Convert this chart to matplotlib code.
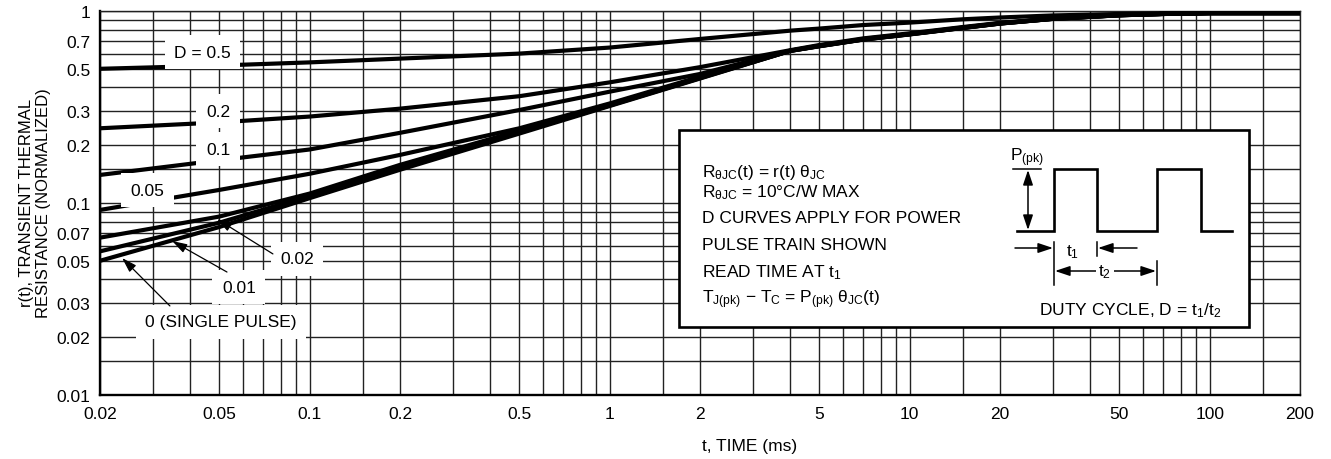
import matplotlib
matplotlib.use("Agg")
import matplotlib.pyplot as plt
from matplotlib.patches import Rectangle
from matplotlib.ticker import FixedLocator, FixedFormatter, NullFormatter

plt.rcParams['font.family'] = ['Liberation Sans', 'DejaVu Sans']
plt.rcParams['mathtext.fontset'] = 'custom'
plt.rcParams['mathtext.rm'] = 'Liberation Sans'
plt.rcParams['mathtext.it'] = 'Liberation Sans:italic'
plt.rcParams['mathtext.bf'] = 'Liberation Sans:bold'

# ---------------- data ----------------
t_ms = [0.02, 0.05, 0.1, 0.2, 0.5, 1, 2, 4, 5, 7, 10, 15, 20, 30, 50, 70, 100, 200]
r_d050 = [0.50, 0.52, 0.54, 0.565, 0.60, 0.645, 0.715, 0.79, 0.81, 0.845, 0.87, 0.905, 0.925, 0.948, 0.965, 0.972, 0.975, 0.975]
r_d020 = [0.245, 0.263, 0.282, 0.31, 0.36, 0.425, 0.51, 0.625, 0.665, 0.72, 0.765, 0.825, 0.867, 0.914, 0.953, 0.966, 0.975, 0.975]
r_d010 = [0.14, 0.167, 0.19, 0.232, 0.305, 0.38, 0.47, 0.622, 0.66, 0.715, 0.76, 0.82, 0.864, 0.912, 0.952, 0.966, 0.975, 0.975]
r_d005 = [0.092, 0.117, 0.142, 0.178, 0.245, 0.33, 0.455, 0.621, 0.658, 0.712, 0.758, 0.818, 0.862, 0.911, 0.951, 0.965, 0.975, 0.975]
r_d002 = [0.066, 0.085, 0.112, 0.158, 0.238, 0.325, 0.45, 0.62, 0.657, 0.711, 0.757, 0.817, 0.861, 0.91, 0.95, 0.965, 0.975, 0.975]
r_d001 = [0.056, 0.079, 0.109, 0.153, 0.234, 0.322, 0.447, 0.62, 0.656, 0.71, 0.756, 0.816, 0.86, 0.91, 0.95, 0.965, 0.975, 0.975]
r_d000 = [0.050, 0.075, 0.106, 0.149, 0.230, 0.320, 0.445, 0.62, 0.655, 0.71, 0.755, 0.815, 0.86, 0.91, 0.95, 0.965, 0.975, 0.975]

x_ticks = [0.02, 0.05, 0.1, 0.2, 0.5, 1, 2, 5, 10, 20, 50, 100, 200]
x_tick_labels = ["0.02", "0.05", "0.1", "0.2", "0.5", "1", "2", "5", "10", "20", "50", "100", "200"]
y_ticks = [0.01, 0.02, 0.03, 0.05, 0.07, 0.1, 0.2, 0.3, 0.5, 0.7, 1]
y_tick_labels = ["0.01", "0.02", "0.03", "0.05", "0.07", "0.1", "0.2", "0.3", "0.5", "0.7", "1"]

# ---------------- figure ----------------
W, H = 1331, 460
fig = plt.figure(figsize=(W / 100, H / 100), dpi=100)
L, R, T, B = 100, 1300, 12, 396
ax = fig.add_axes([L / W, 1 - B / H, (R - L) / W, (B - T) / H])
ax.set_xscale('log')
ax.set_yscale('log')
ax.set_xlim(0.02, 200)
ax.set_ylim(0.01, 1)

mults = [1, 1.5, 2, 3, 4, 5, 6, 7, 8, 9]
x_grid = [m * 10 ** e for e in range(-2, 3) for m in mults if 0.02 <= m * 10 ** e <= 200]
y_grid = [m * 10 ** e for e in range(-2, 1) for m in mults if 0.01 <= m * 10 ** e <= 1]

ax.xaxis.set_major_locator(FixedLocator(x_ticks))
ax.xaxis.set_major_formatter(FixedFormatter(x_tick_labels))
ax.xaxis.set_minor_locator(FixedLocator(x_grid))
ax.xaxis.set_minor_formatter(NullFormatter())
ax.yaxis.set_major_locator(FixedLocator(y_ticks))
ax.yaxis.set_major_formatter(FixedFormatter(y_tick_labels))
ax.yaxis.set_minor_locator(FixedLocator(y_grid))
ax.yaxis.set_minor_formatter(NullFormatter())
ax.tick_params(which='both', length=0)
ax.tick_params(axis='x', pad=8, labelsize=12.5)
ax.tick_params(axis='y', pad=7, labelsize=12.5)
ax.grid(which='both', color='#222222', lw=1.0)
ax.set_axisbelow(True)
for s in ['left', 'bottom']:
    ax.spines[s].set_linewidth(1.7)
    ax.spines[s].set_color('black')
for s in ['top', 'right']:
    ax.spines[s].set_linewidth(1.0)
    ax.spines[s].set_color('#222222')

for r in [r_d050, r_d020, r_d010, r_d005, r_d002, r_d001, r_d000]:
    ax.plot(t_ms, r, color='black', lw=3.0, zorder=3, solid_capstyle='butt',
            solid_joinstyle='round')

lab_kw = dict(fontsize=12.5, ha='center', va='center', zorder=4,
              bbox=dict(boxstyle='square,pad=0.55', fc='white', ec='none'))
ax.text(0.0439, 0.611, "D = 0.5", **lab_kw)
ax.text(0.0495, 0.301, "0.2", **lab_kw)
ax.text(0.0495, 0.191, "0.1", **lab_kw)
ax.text(0.0287, 0.1168, "0.05", **lab_kw)
ax.text(0.0907, 0.0511, "0.02", **lab_kw)
ax.text(0.0581, 0.0365, "0.01", **lab_kw)
ax.text(0.0506, 0.0240, "0 (SINGLE PULSE)", **lab_kw)

arr_kw = dict(arrowstyle='-|>,head_length=0.9,head_width=0.28', color='black',
              lw=0.9, shrinkA=0, shrinkB=0, mutation_scale=10)
ax.annotate('', xy=(0.0491, 0.0825), xytext=(0.0754, 0.0543), arrowprops=arr_kw, zorder=4)
ax.annotate('', xy=(0.0348, 0.0634), xytext=(0.0530, 0.0437), arrowprops=arr_kw, zorder=4)
ax.annotate('', xy=(0.0237, 0.0517), xytext=(0.0342, 0.0291), arrowprops=arr_kw, zorder=4)

fig.text(35 / W, 1 - 203 / H, "r(t), TRANSIENT THERMAL\nRESISTANCE (NORMALIZED)",
         rotation=90, ha='center', va='center', fontsize=12, linespacing=1.1)
fig.text(750 / W, 1 - 447 / H, "t, TIME (ms)", ha='center', va='center', fontsize=12.5)

# ---------------- inset (pixel coordinates) ----------------
ov = fig.add_axes([0, 0, 1, 1], zorder=5)
ov.set_xlim(0, W)
ov.set_ylim(H, 0)
ov.axis('off')
ov.patch.set_visible(False)

ov.add_patch(Rectangle((679, 131), 1249 - 679, 328 - 131, fc='white', ec='black', lw=1.9))
tk = dict(fontsize=12.5, ha='left', va='baseline')
ov.text(702, 177, r"R$_{\mathrm{θJC}}$(t) = r(t) θ$_{\mathrm{JC}}$", **tk)
ov.text(702, 197, r"R$_{\mathrm{θJC}}$ = 10°C/W MAX", **tk)
ov.text(702, 223, "D CURVES APPLY FOR POWER", **tk)
ov.text(702, 250, "PULSE TRAIN SHOWN", **tk)
ov.text(702, 277, r"READ TIME AT t$_{1}$", **tk)
ov.text(702, 303, r"T$_{\mathrm{J(pk)}}$ − T$_{\mathrm{C}}$ = P$_{\mathrm{(pk)}}$ θ$_{\mathrm{JC}}$(t)", **tk)

ov.plot([1017, 1054, 1054, 1097, 1097, 1157, 1157, 1201, 1201, 1232],
        [232, 232, 170, 170, 232, 232, 170, 170, 232, 232],
        color='black', lw=1.9, solid_joinstyle='miter')
ov.plot([1013, 1041], [170, 170], color='black', lw=1.1)
ov.plot([1054, 1054], [243, 286], color='black', lw=1.1)
ov.plot([1097, 1097], [243, 257], color='black', lw=1.1)
ov.plot([1157, 1157], [262, 286], color='black', lw=1.1)
pa = dict(color='black', lw=1.1, shrinkA=0, shrinkB=0, mutation_scale=10)
ov.annotate('', xy=(1028, 171), xytext=(1028, 231),
            arrowprops=dict(arrowstyle='<|-|>,head_length=0.9,head_width=0.3', **pa))
ov.annotate('', xy=(1053, 249), xytext=(1015, 249),
            arrowprops=dict(arrowstyle='-|>,head_length=0.9,head_width=0.3', **pa))
ov.annotate('', xy=(1098, 249), xytext=(1137, 249),
            arrowprops=dict(arrowstyle='-|>,head_length=0.9,head_width=0.3', **pa))
ov.annotate('', xy=(1055, 272), xytext=(1156, 272),
            arrowprops=dict(arrowstyle='<|-|>,head_length=0.9,head_width=0.3', **pa))
ov.text(1027, 158, r"P$_{\mathrm{(pk)}}$", fontsize=12.5, ha='center', va='center')
ov.text(1073, 252, r"t$_{1}$", fontsize=12.5, ha='center', va='center')
ov.text(1105, 272, r"t$_{2}$", fontsize=12.5, ha='center', va='center',
        bbox=dict(boxstyle='square,pad=0.15', fc='white', ec='none'))
ov.text(1130, 311, r"DUTY CYCLE, D = t$_{1}$/t$_{2}$", fontsize=12.5, ha='center', va='center')

fig.savefig("out.png", dpi=100)
